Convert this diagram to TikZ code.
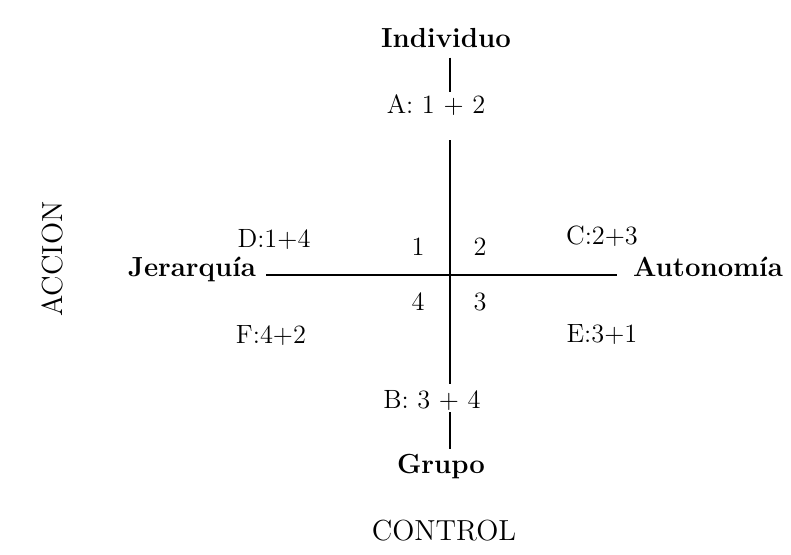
\documentclass[tikz,border=0pt]{standalone}
\usepackage{tikz}

\begin{document}
\begin{tikzpicture}[x=0.5pt, y=-0.5pt,
                pole/.style={font=\fontsize{13.8}{16}\selectfont\bfseries, anchor=base, inner sep=1pt},
                tag/.style={font=\fontsize{13.2}{15}\selectfont, anchor=base, inner sep=1pt},
                title/.style={font=\fontsize{14.5}{17}\selectfont, anchor=base, inner sep=1pt},
                axis/.style={line width=0.9pt}
            ]
        \useasboundingbox (0,0) rectangle (791,554);
        \coordinate (o) at (450,275);
        \coordinate (n) at (450,140);
        \coordinate (s) at (450,384);

        % poles
        \node[pole] (ind)  at (446,47)  {Individuo};
        \node[pole] (grp)  at (441,473) {Grupo};
        \node[pole] (jer)  at (192,276) {Jerarquía};
        \node[pole] (aut)  at (708,276) {Autonomía};

        % combinations
        \node[tag] (combA) at (436,113) {A: 1 + 2};
        \node[tag] (combB) at (432,408) {B: 3 + 4};
        \node[tag] (combC) at (602,244) {C:2+3};
        \node[tag] (combD) at (274,247) {D:1+4};
        \node[tag] (combE) at (602,342) {E:3+1};
        \node[tag] (combF) at (271,343) {F:4+2};

        % quadrants
        \node[tag] (q1) at (418,255) {1};
        \node[tag] (q2) at (480,255) {2};
        \node[tag] (q3) at (480,310) {3};
        \node[tag] (q4) at (418,310) {4};

        % dimensions
        \node[title] (ctrl) at (444,540) {CONTROL};
        \node[title, rotate=90] (acc) at (62,259) {ACCION};

        \draw[axis, shorten <=4pt] (ind.south -| o) -- (combA.north -| o);
        \draw[axis] (n) -- (s);
        \draw[axis, shorten >=1pt] (combB.south -| o) -- (grp.north -| o);
        \draw[axis, shorten <=4pt, shorten >=7pt] (jer.east |- o) -- (aut.west |- o);
            \end{tikzpicture}
\end{document}
